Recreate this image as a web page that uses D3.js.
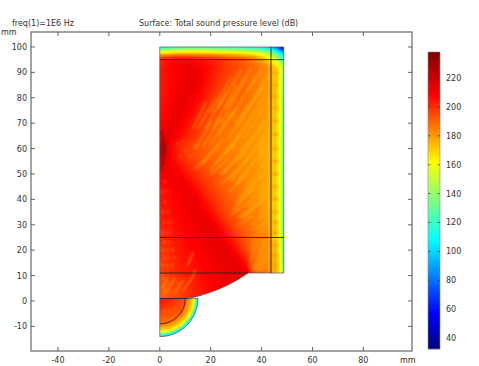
<!DOCTYPE html>
<html><head><meta charset="utf-8">
<script src="https://cdn.jsdelivr.net/npm/d3@7"></script>
<style>html,body{margin:0;padding:0;background:#fff}svg{display:block}text{font-family:"DejaVu Sans",sans-serif;fill:#333}</style>
</head><body><div id="chart"></div>
<script>
const titleLeft = "freq(1)=1E6 Hz";
const titleCenter = "Surface: Total sound pressure level (dB)";
const unit = "mm";
const xTicks = [-40,-20,0,20,40,60,80];
const yTicks = [-10,0,10,20,30,40,50,60,70,80,90,100];
const barTicks = [40,60,80,100,120,140,160,180,200,220];
const colorStops = [33,58,108,136,162,208,238];
const colorRange = ["#00007f","#0000ff","#00ffff","#80ff80","#ffff00","#ff0000","#7f0000"];

// sound level (dB): rows top to bottom, columns left to right (mm)
const gridX = [0,2,4,7,10,14,18,22,26,30,34,38,42,44,46,47,48,48.7];
const gridY = [100,99,98,97,96,95,92,88,84,80,76,72,68,64,60,56,52,48,44,40,36,32,28,24,20,16,12,8,4,1];
const gridDb = [
[115,118,120,122,125,125,125,122,120,118,115,110,100,90,75,65,55,45],
[135,138,140,142,145,145,145,142,140,138,135,132,120,110,95,85,75,65],
[158,160,162,165,165,165,165,163,160,158,155,150,140,130,115,105,95,85],
[178,180,182,184,184,184,182,180,178,176,172,166,155,145,130,120,110,100],
[192,196,198,200,200,198,196,194,190,188,184,178,165,155,140,130,120,110],
[198,203,205,208,208,206,203,200,197,194,190,184,172,163,150,140,130,120],
[204,206,208,210,212,212,208,203,198,195,192,188,183,176,170,165,150,125],
[204,205,207,209,211,213,207,201,197,193,190,187,182,175,171,165,148,122],
[204,205,207,210,212,212,205,199,195,192,189,186,182,175,171,164,148,120],
[205,206,208,211,212,209,203,197,194,191,188,185,181,175,170,164,147,120],
[206,207,209,212,212,206,200,195,192,189,187,184,180,174,170,164,147,119],
[207,208,210,212,209,203,197,193,190,187,185,183,180,174,169,163,146,118],
[210,211,213,211,206,200,195,191,188,186,184,182,179,174,169,163,146,117],
[218,216,212,207,202,197,193,189,187,185,183,181,178,173,169,163,145,116],
[228,220,209,203,198,194,191,188,186,184,182,180,177,173,168,162,145,115],
[224,216,210,204,199,195,192,189,187,185,183,181,178,173,169,162,145,115],
[214,212,211,208,203,198,194,191,188,186,184,182,178,173,169,162,145,115],
[208,209,210,211,208,202,197,193,190,187,184,182,178,173,168,162,144,114],
[206,207,208,210,212,207,200,195,191,188,185,182,178,173,168,162,144,114],
[205,206,207,208,211,212,204,198,193,189,186,183,178,173,168,162,143,113],
[204,205,206,208,210,213,209,201,195,191,187,184,179,173,169,162,143,112],
[203,204,205,207,209,212,213,206,198,193,188,185,180,174,169,163,143,112],
[202,203,204,206,208,210,213,212,203,195,190,186,182,175,170,163,144,112],
[200,201,203,205,207,209,211,214,209,200,192,187,183,176,171,164,145,113],
[199,200,202,204,206,208,210,212,214,206,195,188,184,177,172,165,146,114],
[198,199,201,203,205,207,209,211,213,213,202,190,184,178,173,166,147,115],
[197,198,200,202,204,206,208,210,212,214,210,193,185,179,174,167,148,116],
[194,195,197,199,201,204,207,209,211,213,213,200,190,180,170,165,148,116],
[192,193,195,197,199,203,206,209,211,212,212,200,190,180,170,165,148,116],
[190,191,193,195,198,202,205,208,210,212,212,200,190,180,170,165,148,116]
];
// quarter ring below the lens: rows by angle, columns by radius
const ringR = [0,5,9.5,10.5,11.5,12.5,13.3,14,14.6,15];
const ringAngle = [0,45,90];
const ringDb = [
[205,200,194,188,182,172,160,138,112,100],
[206,198,192,186,180,170,158,135,110,98],
[208,196,188,184,176,168,155,132,108,95]
];
// lighter ripple streaks seen in the field [x1,y1,x2,y2] in mm
const streaks = [
[26,82,18,68],[30,85,21,68],[34,88,24,70],[38,89,28,72],[42,86,30,68],[43,80,33,64],[43,74,32,58],
[22,80,15,68],[18,78,13,68],[40,91,35,83],[36,78,27,64],[39,76,28,60],[43,68,33,54],[43,62,30,47],
[25,64,17,54],[29,62,20,52],[33,58,24,50],[36,58,27,48],[43,56,33,44],[40,50,31,40],[43,48,34,38],
[37,44,29,36],[43,42,32,33],[39,38,31,33],[43,36,36,30],[22,60,14,52],[30,76,23,65],[34,70,26,58],
[28,88,20,74],[32,91,23,76],[36,92,26,76],[40,84,30,70],[43,90,36,78],[43,84,34,70],[41,70,31,56],
[28,74,20,62],[24,72,17,61],[20,70,14,60],[32,66,22,54],[36,64,25,50],[41,64,28,47],[40,58,30,46],
[27,56,20,50],[31,52,24,46],[35,50,27,43],[43,52,32,41],[38,46,30,38],[43,45,35,37],[41,40,33,33],
[35,39,28,34],[37,34,31,30],[43,32,37,28],[41,28,36,25],
[35,13,39,24],[36,12,41,24],[37,12,43,21],[38,11.5,43,17],[39,11.5,43,14],[35.5,16,37,24],[36.5,12,42,23],[37.5,12,43,19],
[11,14,13,19],[12,8,14,12],[6,9,2,3],[9,8,6,3],[9,4,12,8],[3,9,1,5],
[11.5,0,13,0],[11,-3,13,-4],[9.5,-6,11,-7.5],[7,-9,8,-11],[4,-10.5,4.5,-12.5]
];
// small lighter ripple spots near the axis [x,y] in mm
const spots = [[1,14],[3,14],[5,14],[2,17],[4,17],[6,17],[1,20],[3,20],[5,20],[2,23],[4,23],[1,27],[3,27],[2,31],[4,31],[1,35],[3,35],[2,39],[1,43],[3,43],[2,47],[8,57],[10,59],[7,62],[9,63],[12,57],[14,61],[2,4],[4,4],[6,4],[3,7],[5,7],[7,7],[1,9],[2,-4],[4,-4],[6,-3],[3,-7],[5,-7]];
const blobY = [90,85,80.5,76,71,65.5,60,55,50,45,40,35,31,27,22,18,14];
const geom = {focusY:60, lensR:60, topY:100, rightX:48.7, bottomY:11, ringY:1, ringOuter:15, ringInner:10, lineX:43.7, lineYs:[95,25,11,1], spotRx:1.8, spotRy:7.5, spotY:59.5};

const W=479,H=366,L=31,R=412,T=32,B=351;
const x=d3.scaleLinear().domain([-50.6,99.1]).range([L,R]);
const y=d3.scaleLinear().domain([-19.7,105.9]).range([B,T]);
const color=d3.scaleLinear().domain(colorStops).range(colorRange).clamp(true);
const barScale=d3.scaleLinear().domain([40,220]).range([338,78]);
const svg=d3.select("#chart").append("svg").attr("width",W).attr("height",H);
const defs=svg.append("defs");
defs.append("filter").attr("id","soft").append("feGaussianBlur").attr("stdDeviation",0.9);
defs.append("filter").attr("id","soft2").append("feGaussianBlur").attr("stdDeviation",0.35);

function lerpIdx(arr,v,desc){
  let i=0; while(i<arr.length-2 && (desc? arr[i+1]>v : arr[i+1]<v)) i++;
  const t=Math.max(0,Math.min(1,(v-arr[i])/(arr[i+1]-arr[i])));
  return [i,t];
}
function dbAt(mx,my){
  if(my<geom.ringY && Math.hypot(mx,my-geom.ringY)<=geom.ringOuter+1){
    const r=Math.hypot(mx,my-geom.ringY), a=Math.atan2(geom.ringY-my,mx)*180/Math.PI;
    const [i,s]=lerpIdx(ringAngle,a,false),[j,t]=lerpIdx(ringR,Math.min(r,15),false);
    const v0=ringDb[i][j]+(ringDb[i][j+1]-ringDb[i][j])*t, v1=ringDb[i+1][j]+(ringDb[i+1][j+1]-ringDb[i+1][j])*t;
    return v0+(v1-v0)*s;
  }
  const [i,s]=lerpIdx(gridY,my,true),[j,t]=lerpIdx(gridX,mx,false);
  const v0=gridDb[i][j]+(gridDb[i][j+1]-gridDb[i][j])*t, v1=gridDb[i+1][j]+(gridDb[i+1][j+1]-gridDb[i+1][j])*t;
  return v0+(v1-v0)*s;
}
const fx0=Math.floor(x(0))-1, fx1=Math.ceil(x(geom.rightX))+1, fy0=Math.floor(y(geom.topY))-1, fy1=Math.ceil(y(-14))+1;
const cv=document.createElement("canvas"); cv.width=fx1-fx0; cv.height=fy1-fy0;
const ctx=cv.getContext("2d"); const img=ctx.createImageData(cv.width,cv.height);
for(let py=0;py<cv.height;py++)for(let px=0;px<cv.width;px++){
  const c=d3.rgb(color(dbAt(x.invert(px+fx0+.5),y.invert(py+fy0+.5))));
  const k=(py*cv.width+px)*4; img.data[k]=c.r;img.data[k+1]=c.g;img.data[k+2]=c.b;img.data[k+3]=255;
}
ctx.putImageData(img,0,0);

function lensAtY(v){return Math.sqrt(geom.lensR*geom.lensR-(geom.focusY-v)*(geom.focusY-v));}
const outline=d3.path();
outline.moveTo(x(0),y(geom.topY)); outline.lineTo(x(geom.rightX),y(geom.topY)); outline.lineTo(x(geom.rightX),y(geom.bottomY));
d3.range(geom.bottomY,geom.ringY-0.01,-0.5).forEach(v=>outline.lineTo(x(lensAtY(v)),y(v)));
outline.lineTo(x(geom.ringOuter),y(geom.ringY));
d3.range(0,91,5).forEach(a=>{const t=a*Math.PI/180;outline.lineTo(x(geom.ringOuter*Math.cos(t)),y(geom.ringY-geom.ringOuter*Math.sin(t)));});
outline.closePath();
defs.append("clipPath").attr("id","geo").append("path").attr("d",outline.toString());

const field=svg.append("g").attr("clip-path","url(#geo)");
field.append("image").attr("x",fx0).attr("y",fy0).attr("width",cv.width).attr("height",cv.height).attr("href",cv.toDataURL());
const soft=field.append("g").attr("filter","url(#soft)");
soft.selectAll("line.s").data(streaks).join("line").attr("class","s")
  .attr("x1",d=>x(d[0])).attr("y1",d=>y(d[1])).attr("x2",d=>x(d[2])).attr("y2",d=>y(d[3]))
  .attr("stroke","#ffb000").attr("stroke-width",1.3).attr("stroke-opacity",.7).attr("stroke-linecap","round");
soft.selectAll("circle.d").data(spots).join("circle").attr("class","d")
  .attr("cx",d=>x(d[0])).attr("cy",d=>y(d[1])).attr("r",1.3).attr("fill","#ff9000").attr("fill-opacity",.55);
soft.selectAll("ellipse.b").data(blobY).join("ellipse").attr("class","b")
  .attr("cx",x(45.2)).attr("cy",d=>y(d)).attr("rx",x(46.8)-x(45.2)).attr("ry",1.5).attr("fill","#ffa000").attr("fill-opacity",.7);

const lines=svg.append("g").attr("fill","none").attr("stroke","#222").attr("stroke-opacity",.9).attr("stroke-width",1).attr("filter","url(#soft2)");
lines.append("path").attr("d",outline.toString()).attr("stroke","#555").attr("stroke-width",.8);
geom.lineYs.forEach(v=>{
  const xe=v===geom.ringY?geom.ringInner+1:v===geom.bottomY?lensAtY(v):geom.rightX;
  lines.append("line").attr("x1",x(0)).attr("x2",x(xe)).attr("y1",y(v)).attr("y2",y(v));
});
lines.append("line").attr("x1",x(geom.lineX)).attr("x2",x(geom.lineX)).attr("y1",y(geom.topY)).attr("y2",y(geom.bottomY));
const inner=d3.line().x(a=>x(geom.ringInner*Math.cos(a*Math.PI/180))).y(a=>y(geom.ringY-geom.ringInner*Math.sin(a*Math.PI/180)));
lines.append("path").attr("d",inner(d3.range(0,91,5)));
const spotLine=d3.line().x(a=>x(geom.spotRx*Math.cos(a*Math.PI/180))).y(a=>y(geom.spotY+geom.spotRy*Math.sin(a*Math.PI/180)));
lines.append("path").attr("d",spotLine(d3.range(-90,91,10))).attr("stroke-width",.8).attr("stroke-opacity",.6);

const frame=svg.append("g").attr("stroke","#666").attr("fill","none");
frame.append("rect").attr("x",L).attr("y",T).attr("width",R-L).attr("height",B-T).attr("stroke-width",1.2);
const tickLen=4;
xTicks.forEach(v=>{
  frame.append("line").attr("x1",x(v)).attr("x2",x(v)).attr("y1",T).attr("y2",T+tickLen);
  frame.append("line").attr("x1",x(v)).attr("x2",x(v)).attr("y1",B).attr("y2",B-tickLen);
});
yTicks.forEach(v=>{
  frame.append("line").attr("y1",y(v)).attr("y2",y(v)).attr("x1",L).attr("x2",L+tickLen);
  frame.append("line").attr("y1",y(v)).attr("y2",y(v)).attr("x1",R).attr("x2",R-tickLen);
});
const fs=8;
svg.selectAll("text.xt").data(xTicks).join("text").attr("class","xt").attr("x",d=>x(d)).attr("y",363).attr("text-anchor","middle").attr("font-size",fs).text(d=>d);
svg.selectAll("text.yt").data(yTicks).join("text").attr("class","yt").attr("x",27).attr("y",d=>y(d)+3).attr("text-anchor","end").attr("font-size",fs).text(d=>d);
svg.append("text").attr("x",12).attr("y",25.5).attr("font-size",fs).text(titleLeft);
svg.append("text").attr("x",139).attr("y",25.5).attr("font-size",fs).text(titleCenter);
svg.append("text").attr("x",1).attr("y",35).attr("font-size",fs).text(unit);
svg.append("text").attr("x",400).attr("y",363).attr("font-size",fs).text(unit);

const bar={x:428,w:12,top:52,bottom:349};
const barV=d3.scaleLinear().domain([bar.top,bar.bottom]).range([238,33]);
svg.append("g").selectAll("rect").data(d3.range(bar.top,bar.bottom)).join("rect")
  .attr("x",bar.x).attr("width",bar.w).attr("y",d=>d).attr("height",1.2).attr("fill",d=>color(barV(d+.5)));
svg.append("rect").attr("x",bar.x).attr("y",bar.top).attr("width",bar.w).attr("height",bar.bottom-bar.top).attr("fill","none").attr("stroke","#888").attr("stroke-width",.6);
barTicks.forEach(v=>{
  svg.append("line").attr("x1",bar.x).attr("x2",bar.x+2.5).attr("y1",barScale(v)).attr("y2",barScale(v)).attr("stroke","#333").attr("stroke-opacity",.7);
  svg.append("line").attr("x1",bar.x+bar.w).attr("x2",bar.x+bar.w-2.5).attr("y1",barScale(v)).attr("y2",barScale(v)).attr("stroke","#333").attr("stroke-opacity",.7);
});
svg.selectAll("text.bt").data(barTicks).join("text").attr("class","bt").attr("x",446).attr("y",d=>barScale(d)+3).attr("font-size",fs).text(d=>d);
</script></body></html>
